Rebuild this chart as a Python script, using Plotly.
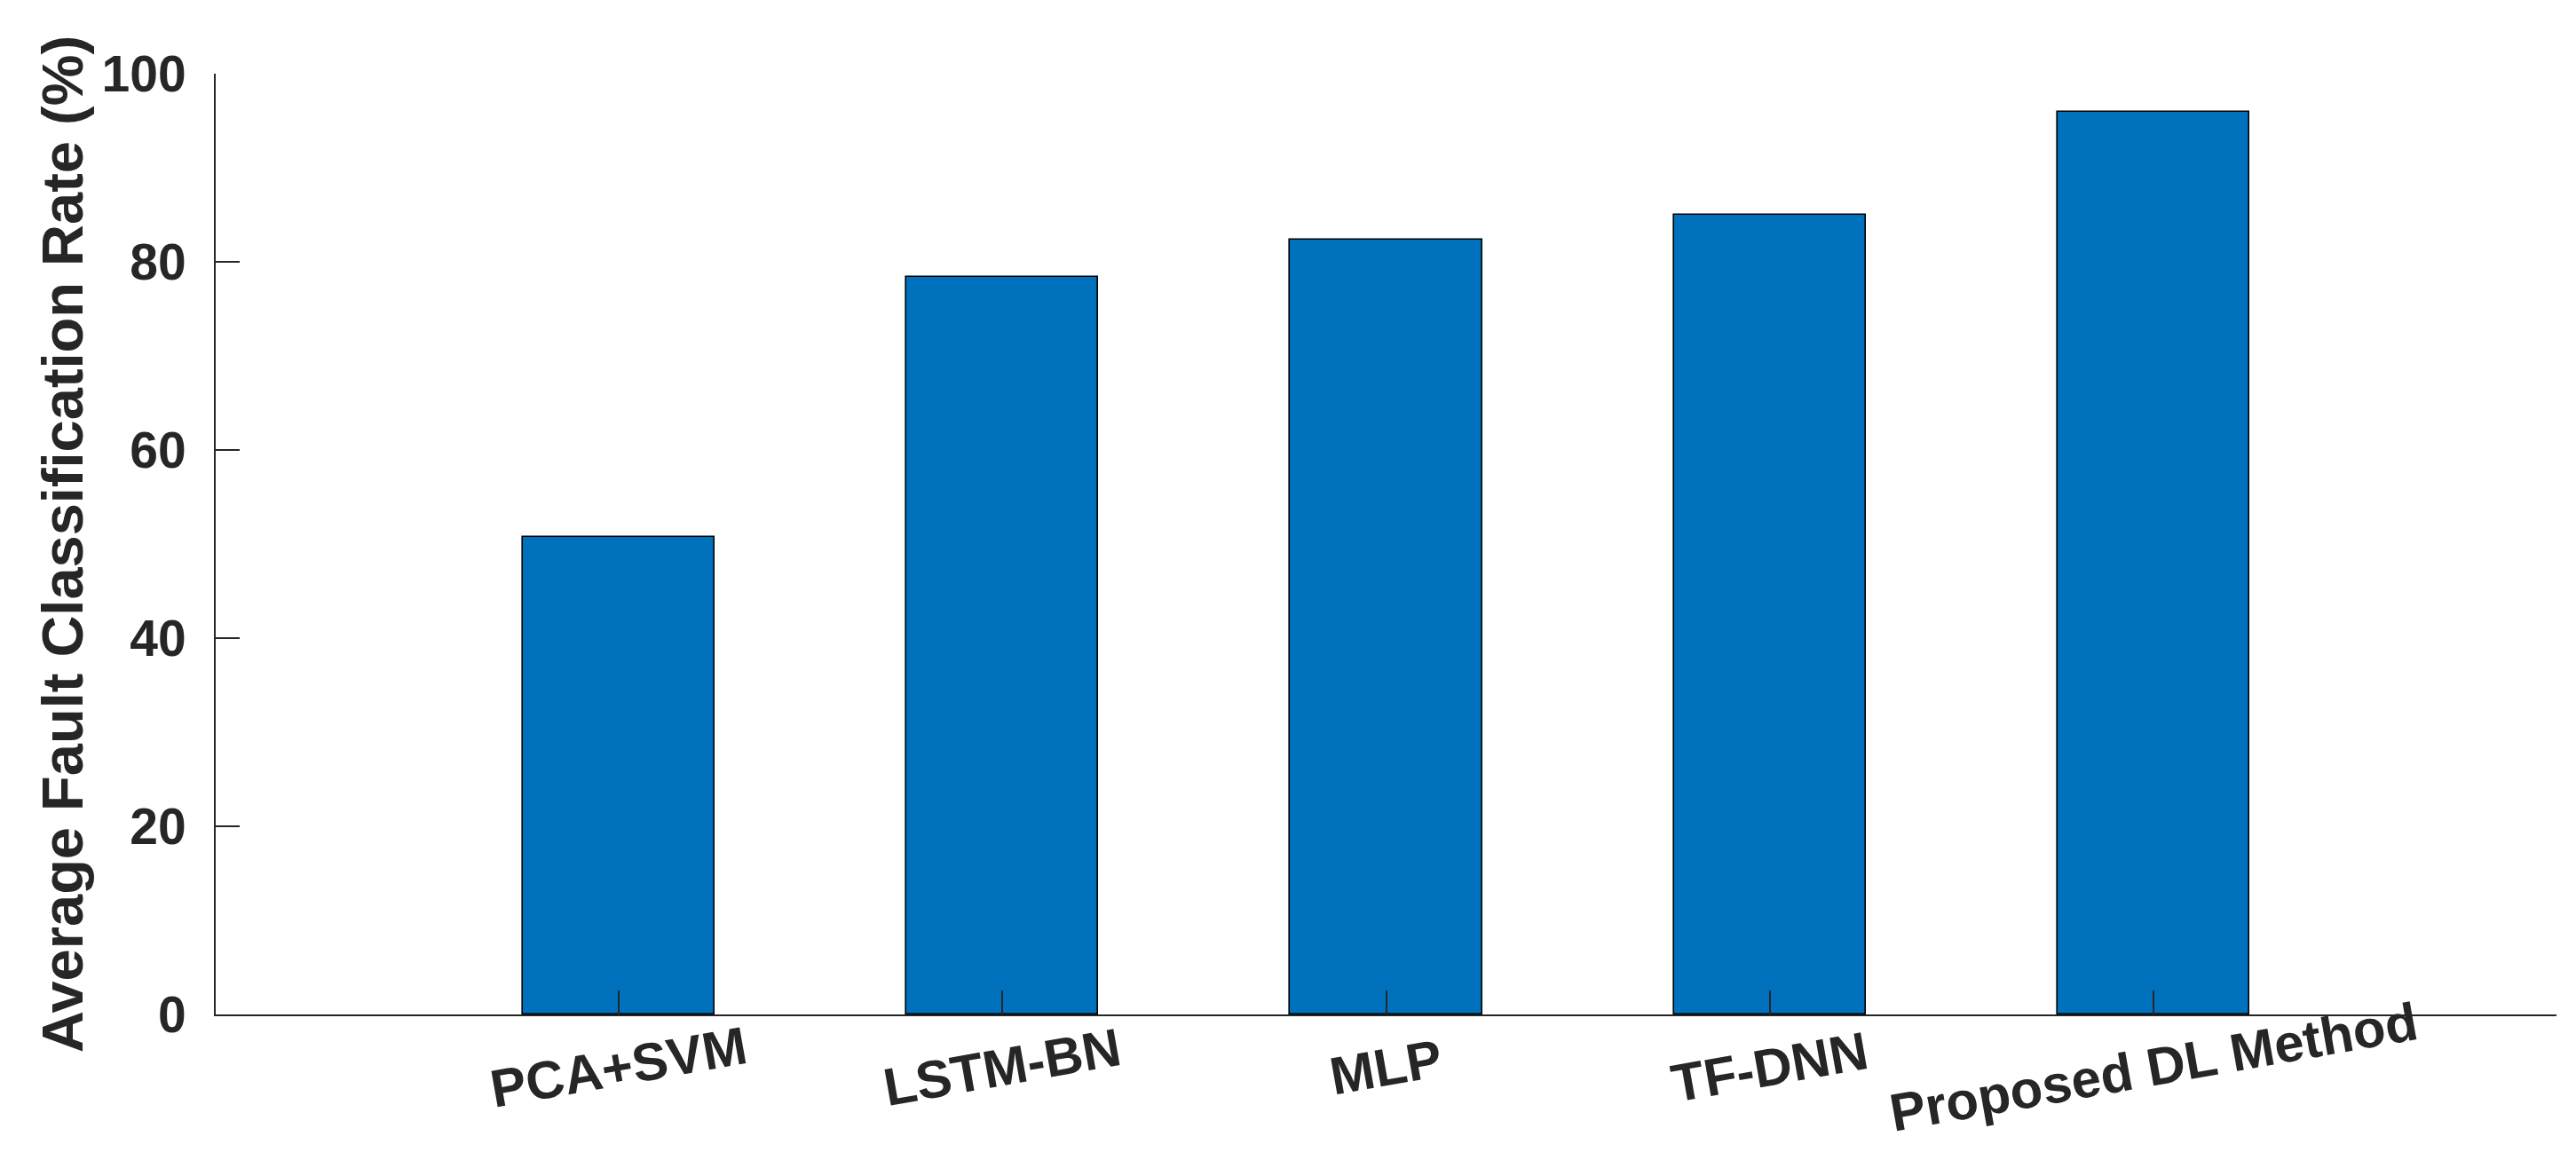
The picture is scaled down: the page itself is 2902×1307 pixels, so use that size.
import plotly.graph_objects as go

categories = ["PCA+SVM", "LSTM-BN", "MLP", "TF-DNN", "Proposed DL Method"]
rates = [50.8, 78.4, 82.4, 85.0, 95.9]
y_ticks = [0, 20, 40, 60, 80, 100]
y_title = "Average Fault Classification Rate (%)"

FONT = "Liberation Sans, Arial, Helvetica, sans-serif"
TXT = "#262626"

fig = go.Figure()
fig.add_trace(go.Bar(
    x=categories, y=rates, width=0.5,
    marker=dict(color="#0072BD", line=dict(color="#000000", width=1.6)),
    showlegend=False,
))

for c in categories:
    fig.add_annotation(
        x=c, xref="x", y=-0.0557, yref="paper",
        text="<b>%s</b>" % c, showarrow=False, textangle=-10,
        xanchor="center", yanchor="middle",
        font=dict(family=FONT, size=60, color=TXT),
    )

fig.update_layout(
    width=2902, height=1307,
    margin=dict(l=235, r=30, t=75, b=172, autoexpand=False),
    paper_bgcolor="white", plot_bgcolor="white",
    font=dict(family=FONT, color=TXT),
    bargap=0,
)
fig.update_xaxes(
    type="category", categoryorder="array", categoryarray=categories,
    range=[-1.05, 5.05],
    showgrid=False, zeroline=False,
    showline=True, linecolor=TXT, linewidth=2,
    ticks="inside", ticklen=27, tickwidth=1.5, tickcolor=TXT,
    showticklabels=False,
)
fig.update_yaxes(
    range=[0, 100], tickvals=y_ticks,
    showgrid=False, zeroline=False,
    showline=True, linecolor=TXT, linewidth=2,
    ticks="inside", ticklen=27, tickwidth=1.5, tickcolor=TXT,
    ticklabelstandoff=20,
    tickfont=dict(family=FONT, size=57, color=TXT, weight="bold"),
    title=dict(text="<b>%s</b>" % y_title, standoff=0,
               font=dict(family=FONT, size=65, color=TXT)),
)

fig.write_html("out.html")
